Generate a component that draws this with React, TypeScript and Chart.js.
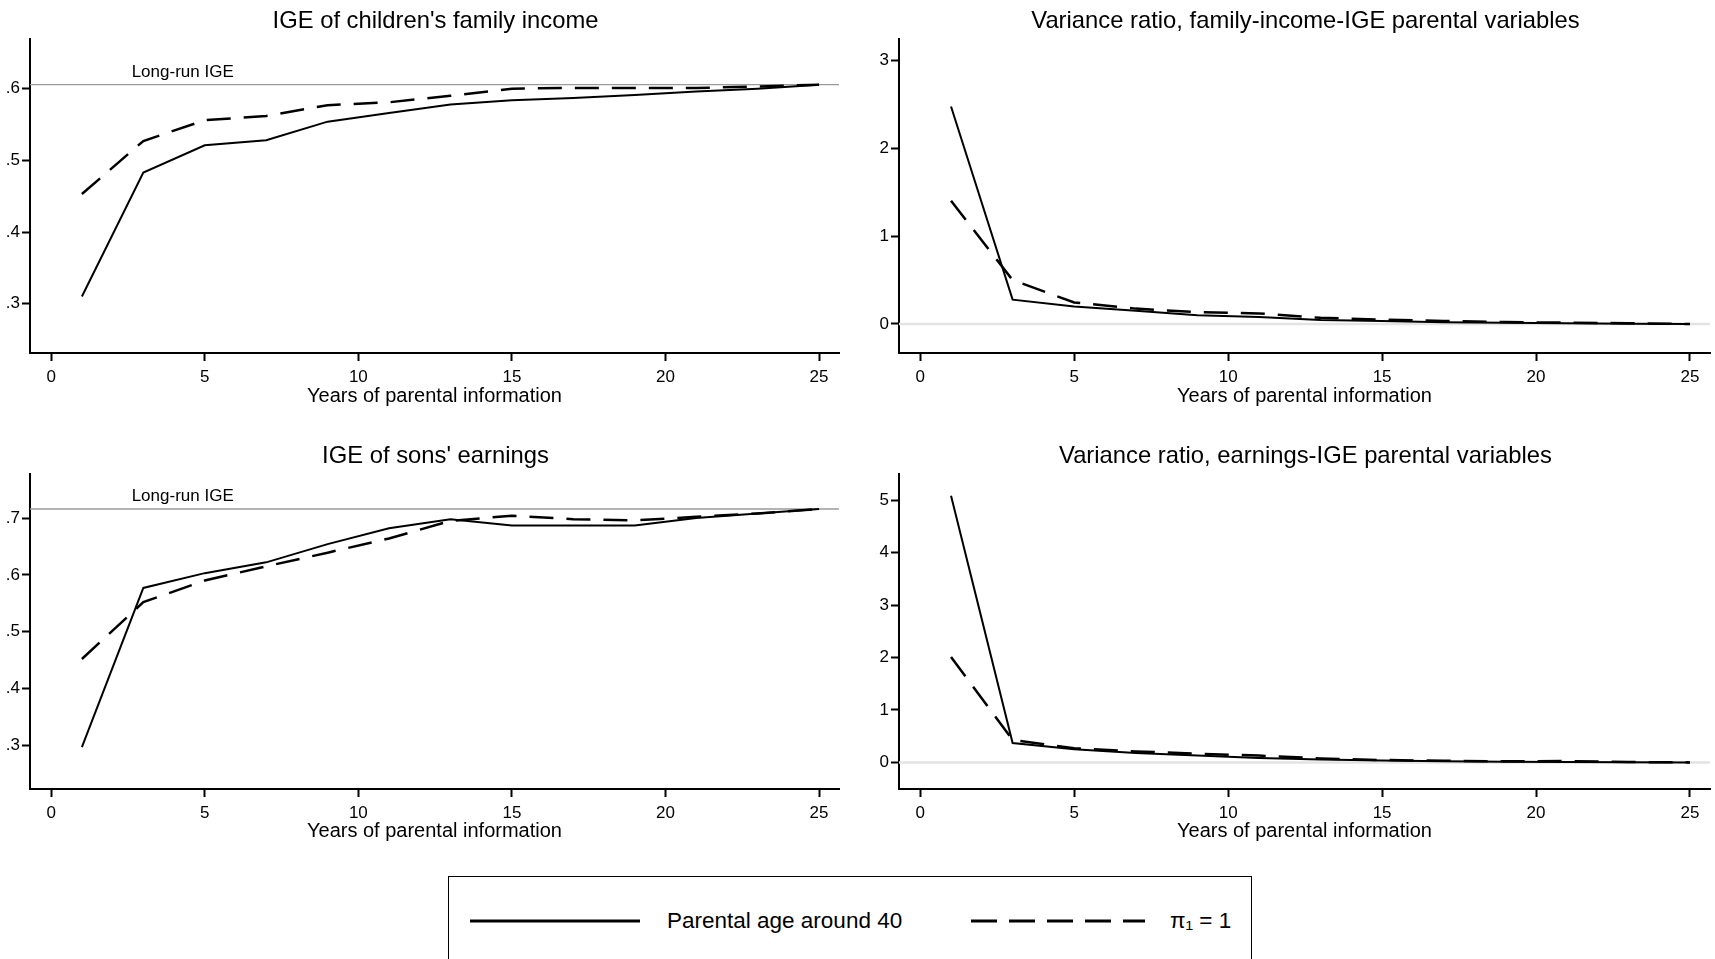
import React, { useEffect, useRef } from "react";
import { Chart, registerables } from "chart.js";

Chart.register(...registerables);
Chart.defaults.font.family = '"Liberation Sans", Arial, Helvetica, sans-serif';
Chart.defaults.color = "#000";

// ---------------- data ----------------
const YEARS = [1, 3, 5, 7, 9, 11, 13, 15, 17, 19, 21, 23, 25];
const X_TICKS = [0, 5, 10, 15, 20, 25];
const X_MIN = -0.69;
const X_MAX = 25.65;

const FAM_IGE_AGE40 = [0.31, 0.483, 0.521, 0.528, 0.554, 0.566, 0.578, 0.584, 0.587, 0.591, 0.596, 0.6, 0.6056];
const FAM_IGE_PI1 = [0.453, 0.527, 0.556, 0.562, 0.577, 0.581, 0.59, 0.6, 0.601, 0.601, 0.601, 0.603, 0.6056];
const FAM_VR_AGE40 = [2.475, 0.277, 0.2, 0.15, 0.1, 0.08, 0.045, 0.035, 0.02, 0.013, 0.008, 0.003, 0.0];
const FAM_VR_PI1 = [1.403, 0.5, 0.245, 0.175, 0.135, 0.12, 0.07, 0.05, 0.035, 0.022, 0.015, 0.008, 0.0];
const SON_IGE_AGE40 = [0.297, 0.577, 0.603, 0.622, 0.654, 0.682, 0.698, 0.687, 0.687, 0.687, 0.7, 0.708, 0.7158];
const SON_IGE_PI1 = [0.452, 0.552, 0.59, 0.615, 0.639, 0.664, 0.695, 0.704, 0.698, 0.696, 0.702, 0.708, 0.7158];
const SON_VR_AGE40 = [5.09, 0.37, 0.25, 0.18, 0.13, 0.085, 0.055, 0.035, 0.022, 0.014, 0.008, 0.004, 0.0];
const SON_VR_PI1 = [2.01, 0.43, 0.27, 0.21, 0.165, 0.13, 0.075, 0.045, 0.03, 0.02, 0.025, 0.006, 0.0];

const FAM_LONG_RUN_IGE = 0.6056;
const SON_LONG_RUN_IGE = 0.7158;
const ZERO_LINE = 0;

const FAM_IGE_Y_TICKS = [0.3, 0.4, 0.5, 0.6];
const SON_IGE_Y_TICKS = [0.3, 0.4, 0.5, 0.6, 0.7];
const FAM_VR_Y_TICKS = [0, 1, 2, 3];
const SON_VR_Y_TICKS = [0, 1, 2, 3, 4, 5];

const FAM_IGE_Y_RANGE = [0.2312, 0.6693];
const SON_IGE_Y_RANGE = [0.2233, 0.7774];
const FAM_VR_Y_RANGE = [-0.33, 3.243];
const SON_VR_Y_RANGE = [-0.508, 5.504];

const TITLE_FAM_IGE = "IGE of children's family income";
const TITLE_FAM_VR = "Variance ratio, family-income-IGE parental variables";
const TITLE_SON_IGE = "IGE of sons' earnings";
const TITLE_SON_VR = "Variance ratio, earnings-IGE parental variables";
const X_TITLE = "Years of parental information";
const SERIES_LABELS = ["Parental age around 40", "π₁ = 1"];
const LONG_RUN_LABEL = "Long-run IGE";
const LONG_RUN_LABEL_X = 2.62;

// ---------------- layout / style ----------------
const FONT = '"Liberation Sans", Arial, Helvetica, sans-serif';
const DASH = [24, 13];

type Box = { left: number; top: number; width: number; height: number };
type Area = { left: number; top: number; right: number; bottom: number };

const fmtIGE = (v: number) => v.toFixed(1).replace(/^0/, "");
const fmtVR = (v: number) => String(v);

type PanelProps = {
  title: string;
  solid: number[];
  dashed: number[];
  yRange: number[];
  yTicks: number[];
  yFmt: (v: number) => string;
  refValue: number;
  refKind: "longrun" | "zero";
  box: Box;
  area: Area;
};

function Panel(p: PanelProps) {
  const ref = useRef<HTMLCanvasElement | null>(null);
  useEffect(() => {
    const canvas = ref.current;
    if (!canvas) return;
    const { box, area } = p;
    const titlePlugin = {
      id: "panelTitle",
      afterDraw(chart: any) {
        const { ctx, chartArea } = chart;
        ctx.save();
        ctx.font = `23.8px ${FONT}`;
        ctx.fillStyle = "#000";
        ctx.textAlign = "center";
        ctx.textBaseline = "alphabetic";
        ctx.fillText(p.title, (chartArea.left + chartArea.right) / 2 + 1, chartArea.top - 11);
        ctx.restore();
      },
    };
    const labelPlugin = {
      id: "longRunLabel",
      afterDatasetsDraw(chart: any) {
        if (p.refKind !== "longrun") return;
        const { ctx, scales } = chart;
        const x = scales.x.getPixelForValue(LONG_RUN_LABEL_X);
        const y = scales.y.getPixelForValue(p.refValue);
        ctx.save();
        ctx.font = `17px ${FONT}`;
        ctx.fillStyle = "#000";
        ctx.textAlign = "left";
        ctx.textBaseline = "alphabetic";
        ctx.fillText(LONG_RUN_LABEL, x, y - 8);
        ctx.restore();
      },
    };
    const refStyle =
      p.refKind === "longrun"
        ? { borderColor: "#9a9a9a", borderWidth: 1.3 }
        : { borderColor: "#e3e3e3", borderWidth: 2.5 };
    const chart = new Chart(canvas, {
      type: "line",
      data: {
        datasets: [
          {
            label: SERIES_LABELS[0],
            data: YEARS.map((x, i) => ({ x, y: p.solid[i] })),
            borderColor: "#000",
            borderWidth: 2,
            pointRadius: 0,
            tension: 0,
            fill: false,
          },
          {
            label: SERIES_LABELS[1],
            data: YEARS.map((x, i) => ({ x, y: p.dashed[i] })),
            borderColor: "#000",
            borderWidth: 2.5,
            borderDash: DASH,
            pointRadius: 0,
            tension: 0,
            fill: false,
          },
          {
            label: "reference",
            data: [
              { x: X_MIN, y: p.refValue },
              { x: X_MAX, y: p.refValue },
            ],
            ...refStyle,
            pointRadius: 0,
            tension: 0,
            fill: false,
          },
        ],
      },
      options: {
        responsive: false,
        maintainAspectRatio: false,
        animation: false,
        events: [],
        layout: {
          autoPadding: false,
          padding: {
            top: area.top - box.top,
            left: 0,
            right: box.left + box.width - area.right,
            bottom: 0,
          },
        },
        plugins: {
          legend: { display: false },
          tooltip: { enabled: false },
          title: { display: false },
        },
        scales: {
          x: {
            type: "linear",
            min: X_MIN,
            max: X_MAX,
            afterFit: (s: any) => {
              s.height = box.top + box.height - area.bottom;
            },
            afterBuildTicks: (s: any) => {
              s.ticks = X_TICKS.map((v) => ({ value: v }));
            },
            grid: {
              drawOnChartArea: false,
              drawTicks: true,
              tickLength: 8,
              tickColor: "#000",
              tickWidth: 2,
              color: "#000",
            },
            border: { display: true, color: "#000", width: 2 },
            ticks: {
              font: { size: 17, family: FONT },
              color: "#000",
              padding: 6,
              maxRotation: 0,
              autoSkip: false,
              callback: (v: any) => String(v),
            },
            title: {
              display: true,
              text: X_TITLE,
              font: { size: 20, family: FONT },
              color: "#000",
              padding: { top: 0, bottom: 12 },
            },
          },
          y: {
            type: "linear",
            min: p.yRange[0],
            max: p.yRange[1],
            afterFit: (s: any) => {
              s.width = area.left - box.left;
            },
            afterBuildTicks: (s: any) => {
              s.ticks = p.yTicks.map((v) => ({ value: v }));
            },
            grid: {
              drawOnChartArea: false,
              drawTicks: true,
              tickLength: 8,
              tickColor: "#000",
              tickWidth: 2,
              color: "#000",
            },
            border: { display: true, color: "#000", width: 2 },
            ticks: {
              font: { size: 17, family: FONT },
              color: "#000",
              padding: 2,
              autoSkip: false,
              callback: (v: any) => p.yFmt(Number(v)),
            },
          },
        },
      } as any,
      plugins: [titlePlugin, labelPlugin],
    });
    return () => chart.destroy();
  }, []);
  return (
    <canvas
      ref={ref}
      width={p.box.width}
      height={p.box.height}
      style={{
        position: "absolute",
        left: p.box.left,
        top: p.box.top,
        width: p.box.width,
        height: p.box.height,
      }}
    />
  );
}

const BOX_TL: Box = { left: 0, top: 0, width: 860, height: 420 };
const AREA_TL: Area = { left: 30, top: 39, right: 839, bottom: 353 };
const BOX_TR: Box = { left: 860, top: 0, width: 855, height: 420 };
const AREA_TR: Area = { left: 899, top: 39, right: 1710, bottom: 353 };
const BOX_BL: Box = { left: 0, top: 430, width: 860, height: 425 };
const AREA_BL: Area = { left: 30, top: 474, right: 839, bottom: 789 };
const BOX_BR: Box = { left: 860, top: 430, width: 855, height: 425 };
const AREA_BR: Area = { left: 899, top: 474, right: 1710, bottom: 789 };

function LegendSample({ left, dashed }: { left: number; dashed: boolean }) {
  return (
    <svg
      width={175}
      height={20}
      style={{ position: "absolute", left, top: 911 }}
    >
      <line
        x1={0}
        y1={10}
        x2={dashed ? 174 : 170}
        y2={10}
        stroke="#000"
        strokeWidth={3}
        strokeDasharray={dashed ? "26 12" : undefined}
      />
    </svg>
  );
}

export default function App() {
  const textStyle: React.CSSProperties = {
    position: "absolute",
    top: 908,
    fontFamily: FONT,
    fontSize: 22.5,
    lineHeight: "26px",
    color: "#000",
    whiteSpace: "nowrap",
  };
  return (
    <div
      style={{
        position: "absolute",
        left: 0,
        top: 0,
        width: 1715,
        height: 959,
        overflow: "hidden",
        background: "#fff",
      }}
    >
      <Panel
        title={TITLE_FAM_IGE}
        solid={FAM_IGE_AGE40}
        dashed={FAM_IGE_PI1}
        yRange={FAM_IGE_Y_RANGE}
        yTicks={FAM_IGE_Y_TICKS}
        yFmt={fmtIGE}
        refValue={FAM_LONG_RUN_IGE}
        refKind="longrun"
        box={BOX_TL}
        area={AREA_TL}
      />
      <Panel
        title={TITLE_FAM_VR}
        solid={FAM_VR_AGE40}
        dashed={FAM_VR_PI1}
        yRange={FAM_VR_Y_RANGE}
        yTicks={FAM_VR_Y_TICKS}
        yFmt={fmtVR}
        refValue={ZERO_LINE}
        refKind="zero"
        box={BOX_TR}
        area={AREA_TR}
      />
      <Panel
        title={TITLE_SON_IGE}
        solid={SON_IGE_AGE40}
        dashed={SON_IGE_PI1}
        yRange={SON_IGE_Y_RANGE}
        yTicks={SON_IGE_Y_TICKS}
        yFmt={fmtIGE}
        refValue={SON_LONG_RUN_IGE}
        refKind="longrun"
        box={BOX_BL}
        area={AREA_BL}
      />
      <Panel
        title={TITLE_SON_VR}
        solid={SON_VR_AGE40}
        dashed={SON_VR_PI1}
        yRange={SON_VR_Y_RANGE}
        yTicks={SON_VR_Y_TICKS}
        yFmt={fmtVR}
        refValue={ZERO_LINE}
        refKind="zero"
        box={BOX_BR}
        area={AREA_BR}
      />
      <div
        style={{
          position: "absolute",
          left: 448,
          top: 876,
          width: 804,
          height: 110,
          border: "1.5px solid #000",
          boxSizing: "border-box",
        }}
      />
      <LegendSample left={470} dashed={false} />
      <div style={{ ...textStyle, left: 667 }}>{SERIES_LABELS[0]}</div>
      <LegendSample left={971} dashed={true} />
      <div style={{ ...textStyle, left: 1170 }}>{SERIES_LABELS[1]}</div>
    </div>
  );
}
